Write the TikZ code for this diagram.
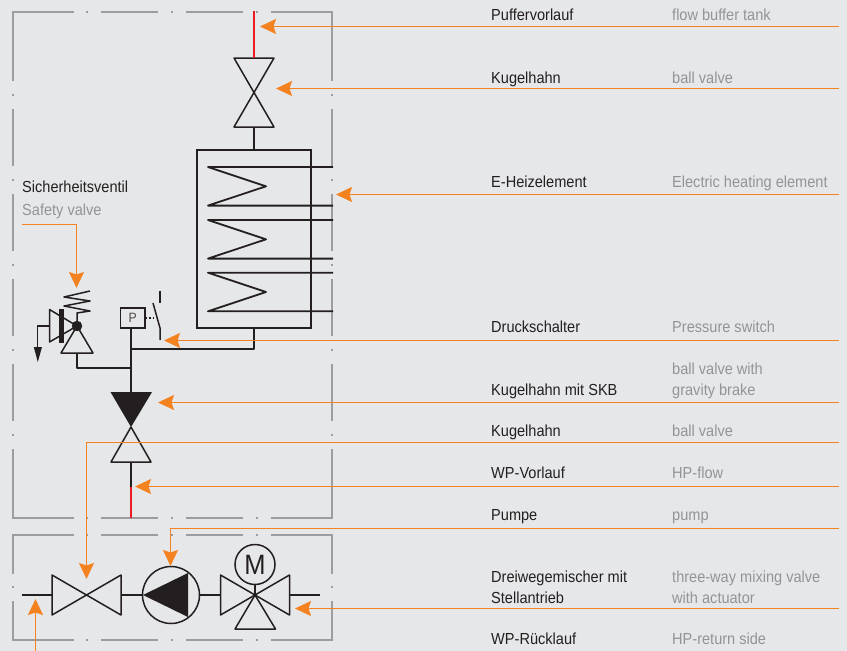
\documentclass[tikz,border=0pt]{standalone}
\usepackage{fontspec}
\setmainfont[FakeStretch=0.91]{Liberation Sans}
\usetikzlibrary{arrows.meta}
\definecolor{bgc}{HTML}{E6E7E9}
\definecolor{framec}{HTML}{9C9D9F}
\definecolor{orangec}{HTML}{F58220}
\definecolor{inkc}{HTML}{231F20}
\definecolor{redc}{HTML}{ED1C24}
\definecolor{greyt}{HTML}{939496}
\tikzset{
  framepart/.style={draw=framec,line width=1.5pt},
  framedot/.style={fill=framec,inner sep=0pt,minimum size=1.6pt,shape=rectangle},
  pipe/.style={draw=inkc,line width=1.8pt,line join=round},
  symb/.style={draw=inkc,line width=1.5pt,line join=round},
  hotpipe/.style={draw=redc,line width=1.9pt},
  leader/.style={draw=orangec,line width=1.7pt,-{Stealth[length=16pt,width=15pt,inset=2.5pt]}},
  de/.style={anchor=base west,inner sep=0pt,yshift=1pt,text=inkc,font=\fontsize{16}{18}\selectfont},
  en/.style={anchor=base west,inner sep=0pt,yshift=1pt,text=greyt,font=\fontsize{16}{18}\selectfont},
}
\begin{document}
\begin{tikzpicture}[x=1pt,y=-1pt]
\useasboundingbox[fill=bgc] (0,0) rectangle (847,651);
% upper frame
\foreach \y in {12,518}{
  \foreach \a/\b in {101/158,186/243}{\draw[framepart] (\a,\y) -- (\b,\y);}
  \foreach \d in {87,172,257}{\node[framedot] at (\d,\y) {};}
}
\draw[framepart] (74,12) -- (13,12) -- (13,81);
\draw[framepart] (271,12) -- (332,12) -- (332,81);
\draw[framepart] (74,518) -- (13,518) -- (13,449);
\draw[framepart] (271,518) -- (332,518) -- (332,449);
\foreach \x in {13,332}{
  \foreach \a/\b in {109/166,194/251,279/336,364/421}{\draw[framepart] (\x,\a) -- (\x,\b);}
  \foreach \d in {95,180,265,350,435}{\node[framedot] at (\x,\d) {};}
}
% lower frame
\foreach \y in {535,640}{
  \foreach \a/\b in {101/158,186/243}{\draw[framepart] (\a,\y) -- (\b,\y);}
  \foreach \d in {87,172,257}{\node[framedot] at (\d,\y) {};}
}
\draw[framepart] (13,574) -- (13,535) -- (74,535);
\draw[framepart] (332,574) -- (332,535) -- (271,535);
\draw[framepart] (13,601) -- (13,640) -- (74,640);
\draw[framepart] (332,601) -- (332,640) -- (271,640);
\foreach \x in {13,332}{\node[framedot] at (\x,587) {};}
% top valve and red pipe
\coordinate (redtop) at (254,11);
\coordinate (vtopa) at (254,58);
\coordinate (vtopb) at (254,127);
\draw[symb] (234,58) -- (274,58) -- (234,127) -- (274,127) -- cycle;
\draw[hotpipe] (redtop) -- (vtopa);
% tank
\node[draw=inkc,line width=1.5pt,minimum width=114pt,minimum height=178pt,inner sep=0pt,shape=rectangle] (tank) at (254,239) {};
\draw[pipe] (vtopb) -- (tank.north);
\foreach \t in {167,220,272.7}{
  \draw[pipe] (333,\t) -- (208,\t) -- (266,\t+19.3) -- (208,\t+38.6) -- (333,\t+38.6);
}
% piping below the tank
\coordinate (tee) at (131,349);
\coordinate (tee2) at (131,368);
\draw[pipe] (tank.south) -- (254,349) -- (tee);
% pressure switch
\node[draw=inkc,line width=1.5pt,minimum width=24.5pt,minimum height=20pt,inner sep=0pt,shape=rectangle,font=\fontsize{13.5}{14}\selectfont,text=inkc!80] (pbox) at (132.7,318) {P};
\draw[inkc,line width=1.5pt,dotted] (pbox.east) -- (155,318);
\draw[inkc,line width=1.5pt] (153,303) -- (160,328) -- (160,340);
\draw[inkc,line width=1.5pt] (160,290.5) -- (160,303);
% safety valve
\coordinate (sball) at (77,326);
\draw[pipe] (tee2) -- (77,368) -- (77,353);
\draw[symb] (sball) -- (61,353) -- (93,353) -- cycle;
\draw[symb] (sball) -- (49.5,309.5) -- (49.5,342) -- cycle;
\fill[inkc] (58.5,309) rectangle (64,343);
\draw[inkc,line width=1.5pt,line join=round] (77,322) -- (77,313) -- (90,311) -- (64,306) -- (90,301) -- (64,297) -- (90,291);
\node[circle,fill=inkc,draw=inkc,inner sep=0pt,minimum size=10pt] (ball) at (sball) {};
\draw[pipe] (49.5,326) -- (37.5,326) -- (37.5,347);
\fill[inkc] (33.8,347) -- (42,347) -- (37.8,362) -- cycle;
% main valve with gravity brake
\coordinate (mva) at (131,392);
\coordinate (mvb) at (131,462);
\draw[pipe] (pbox.south -| mva) -- (mva);
\fill[inkc] (110.5,392) -- (152,392) -- (131,427) -- cycle;
\draw[symb] (131,427) -- (111,462) -- (151,462) -- cycle;
\coordinate (redstart) at (131,487);
\draw[pipe] (mvb) -- (redstart);
\draw[hotpipe] (redstart) -- (131,518);
% lower row
\draw[pipe] (22,595) -- (52,595);
\draw[symb] (52,575) -- (121,615) -- (121,575) -- (52,615) -- cycle;
\node[circle,draw=inkc,line width=1.5pt,inner sep=0pt,minimum size=57pt] (pump) at (171,595) {};
\draw[pipe] (121,595) -- (pump.west);
\fill[inkc] (143,595) -- (188,573) -- (188,617) -- cycle;
\draw[pipe] (pump.east) -- (220.5,595);
\draw[symb] (220.5,575) -- (289.5,615) -- (289.5,575) -- (220.5,615) -- cycle;
\draw[symb] (255,595) -- (235,629) -- (275.5,629) -- cycle;
\node[circle,draw=inkc,line width=1.5pt,inner sep=0pt,minimum size=40pt,font=\fontsize{28}{30}\selectfont,text=inkc] (motor) at (255,564.5) {M};
\draw[symb] (motor.south) -- (255,595);
\draw[pipe] (289.5,595) -- (320,595);
% orange leaders
\coordinate (r1) at (839,26.5);
\coordinate (r2) at (839,88.5);
\coordinate (r3) at (839,194.5);
\coordinate (r4) at (839,340.5);
\coordinate (r5) at (839,402.5);
\coordinate (r6) at (839,442.5);
\coordinate (r7) at (839,486.5);
\coordinate (r8) at (839,528.5);
\coordinate (r9) at (839,608.5);
\draw[leader] (r1) -- (260,26.5);
\draw[leader] (r2) -- (276,88.5);
\draw[leader] (r3) -- (336,194.5);
\draw[leader] (r4) -- (164,340.5);
\draw[leader] (r5) -- (158,402.5);
\draw[leader] (r6) -- (86.5,442.5) -- (86.5,579);
\draw[leader] (r7) -- (135,486.5);
\draw[leader] (r8) -- (170.5,528.5) -- (170.5,566);
\draw[leader] (r9) -- (295,608.5);
\draw[leader] (35.5,651) -- (35.5,599);
\draw[leader] (22,224.5) -- (76.5,224.5) -- (76.5,288);
% texts
\node[de] at (491,21) {Puffervorlauf};
\node[en] at (672,21) {flow buffer tank};
\node[de] at (491,84) {Kugelhahn};
\node[en] at (672,84) {ball valve};
\node[de] at (491,188) {E-Heizelement};
\node[en] at (672,188) {Electric heating element};
\node[de] at (491,333) {Druckschalter};
\node[en] at (672,333) {Pressure switch};
\node[de] at (491,396) {Kugelhahn mit SKB};
\node[en] at (672,375) {ball valve with};
\node[en] at (672,396) {gravity brake};
\node[de] at (491,437) {Kugelhahn};
\node[en] at (672,437) {ball valve};
\node[de] at (491,479) {WP-Vorlauf};
\node[en] at (672,479) {HP-flow};
\node[de] at (491,521) {Pumpe};
\node[en] at (672,521) {pump};
\node[de] at (491,583) {Dreiwegemischer mit};
\node[de] at (491,604) {Stellantrieb};
\node[en] at (672,583) {three-way mixing valve};
\node[en] at (672,604) {with actuator};
\node[de] at (491,645) {WP-Rücklauf};
\node[en] at (672,645) {HP-return side};
\node[de] at (22,193) {Sicherheitsventil};
\node[en] at (22,216) {Safety valve};
\end{tikzpicture}
\end{document}
